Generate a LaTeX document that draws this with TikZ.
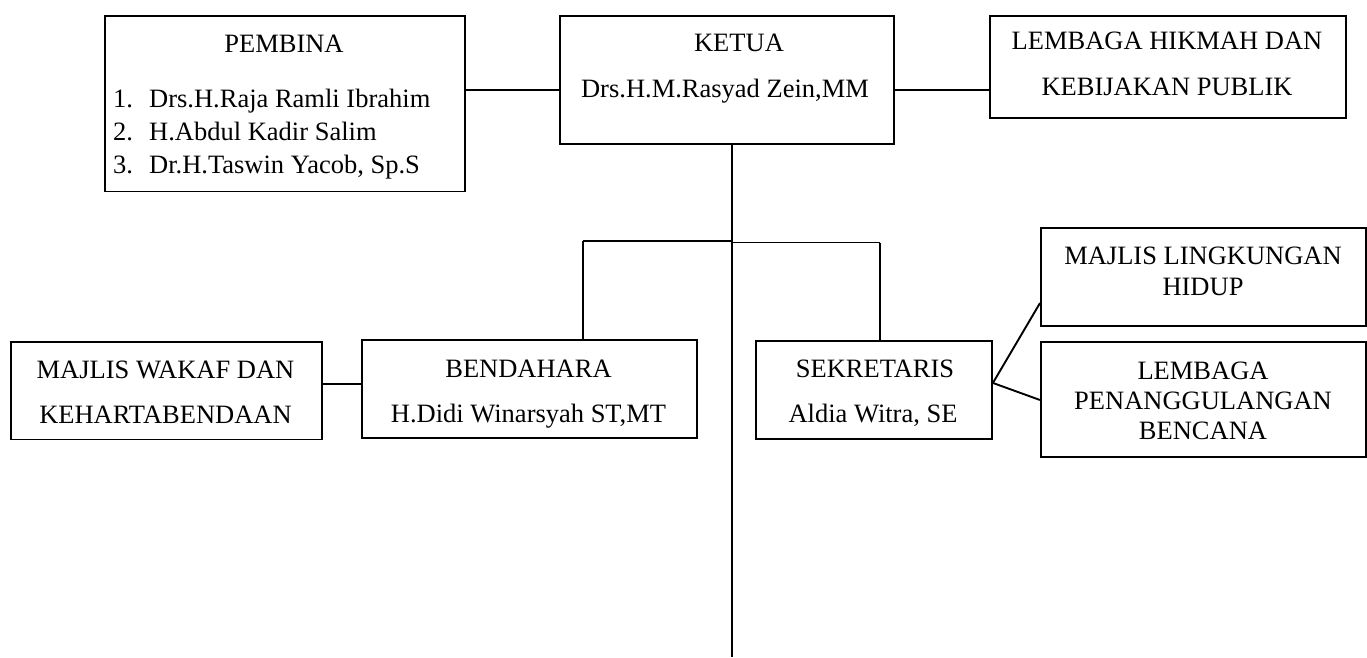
\documentclass[tikz,border=0pt]{standalone}
\usepackage{fontspec}
\setmainfont{Liberation Serif}
\usetikzlibrary{calc}
\begin{document}
\begin{tikzpicture}[x=1pt,y=-1pt,
  box/.style={draw, line width=1.9pt, inner sep=0pt, anchor=north west},
  txt/.style={inner sep=0pt, anchor=base, font=\fontsize{26.5}{30}\selectfont},
  lnk/.style={line width=1.9pt}]
\useasboundingbox (0,0) rectangle (1367,657);
% boxes
\node[box, minimum width=360pt, minimum height=175.5pt] (pembina) at (104,15) {};
\node[box, minimum width=334pt, minimum height=128pt] (ketua) at (559,15) {};
\node[box, minimum width=356pt, minimum height=102pt] (hikmah) at (989,15) {};
\node[box, minimum width=311pt, minimum height=97.5pt] (wakaf) at (10,341) {};
\node[box, minimum width=335pt, minimum height=98pt] (bendahara) at (361,339) {};
\node[box, minimum width=236pt, minimum height=98pt] (sekretaris) at (755,340) {};
\node[box, minimum width=325pt, minimum height=98pt] (lingkungan) at (1040,227) {};
\node[box, minimum width=325pt, minimum height=115pt] (bencana) at (1040,341) {};
% texts
\node[txt] (pembinaT) at (284,52) {PEMBINA};
\node[txt, anchor=base west] (p1n) at (113,107) {1.};
\node[txt, anchor=base west] (p1) at (149,107) {Drs.H.Raja Ramli Ibrahim};
\node[txt, anchor=base west] (p2n) at (113,140) {2.};
\node[txt, anchor=base west] (p2) at (149,140) {H.Abdul Kadir Salim};
\node[txt, anchor=base west] (p3n) at (113,173) {3.};
\node[txt, anchor=base west] (p3) at (149,173) {Dr.H.Taswin Yacob, Sp.S};
\node[txt] (ketuaT) at (739,51) {KETUA};
\node[txt] (ketuaN) at (725,97) {Drs.H.M.Rasyad Zein,MM};
\node[txt] (hikmahT) at (1167,49) {LEMBAGA HIKMAH DAN};
\node[txt] (hikmahN) at (1167,95) {KEBIJAKAN PUBLIK};
\node[txt] (wakafT) at (165.5,378) {MAJLIS WAKAF DAN};
\node[txt] (wakafN) at (165.5,423) {KEHARTABENDAAN};
\node[txt] (bendT) at (528.5,377) {BENDAHARA};
\node[txt] (bendN) at (528.5,422) {H.Didi Winarsyah ST,MT};
\node[txt] (sekT) at (875,377) {SEKRETARIS};
\node[txt] (sekN) at (873,422) {Aldia Witra, SE};
\node[txt] (lingT) at (1203,264) {MAJLIS LINGKUNGAN};
\node[txt] (lingN) at (1203,295) {HIDUP};
\node[txt] (benT) at (1203,379) {LEMBAGA};
\node[txt] (benM) at (1203,409) {PENANGGULANGAN};
\node[txt] (benN) at (1203,439) {BENCANA};
% helper coordinates
\coordinate (yA) at (0,90);
\coordinate (yB) at (0,384);
\coordinate (yC) at (0,303);
\coordinate (yD) at (0,400);
\coordinate (spineX) at (732,0);
\coordinate (spineEnd) at (732,657);
\coordinate (busL) at (583,241);
\coordinate (busM) at (732,241);
\coordinate (busR) at (880,242.5);
\coordinate (sj) at ($(sekretaris.east)+(0,-7)$);
% connectors
\draw[lnk] (pembina.east |- yA) -- (ketua.west |- yA);
\draw[lnk] (ketua.east |- yA) -- (hikmah.west |- yA);
\draw[lnk] (ketua.south -| spineX) -- (spineEnd);
\draw[lnk] (busL) -- (busM);
\draw[lnk] (busM |- busR) -- (busR);
\draw[lnk] (busL) -- (busL |- bendahara.north);
\draw[lnk] (busR) -- (busR |- sekretaris.north);
\draw[lnk] (wakaf.east |- yB) -- (bendahara.west |- yB);
\draw[lnk] (sj) -- (lingkungan.west |- yC);
\draw[lnk] (sj) -- (bencana.west |- yD);
\end{tikzpicture}
\end{document}
